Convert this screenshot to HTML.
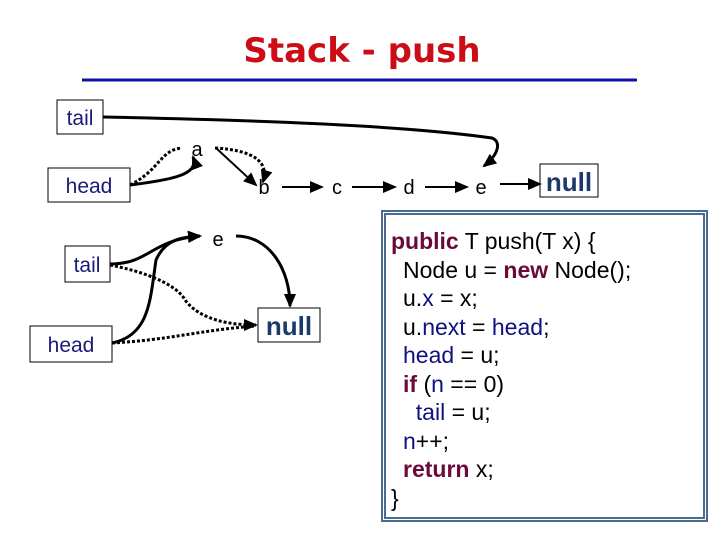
<!DOCTYPE html>
<html><head><meta charset="utf-8"><style>
body{margin:0;width:720px;height:540px;background:#fff;overflow:hidden;position:relative;font-family:"Liberation Sans",sans-serif}
svg{position:absolute;left:0;top:0}
.code{position:absolute;left:381px;top:210px;width:327px;height:312px;border:5px double #4a6a90;font-size:23px;line-height:28.5px;color:#000;box-sizing:border-box;padding-top:12px}
.code div{white-space:pre;margin-left:5px}
.i{padding-left:12px}
.k{color:#6a0a3a;font-weight:bold}.v{color:#101080}
</style></head><body>
<svg width="720" height="540" font-family="Liberation Sans, sans-serif">
<defs><marker id="ab" markerWidth="14" markerHeight="12" refX="12" refY="6" orient="auto" markerUnits="userSpaceOnUse"><path d="M0,0 L14,6 L0,12 z" fill="#000"/></marker></defs>
<text x="362" y="62" text-anchor="middle" font-family="DejaVu Sans, sans-serif" font-weight="bold" font-size="34" fill="#cc0d16">Stack - push</text>
<line x1="82" y1="80" x2="637" y2="80" stroke="#1010a8" stroke-width="3"/>
<g fill="none" stroke="#000">
<rect x="57" y="100" width="46" height="34"/>
<rect x="48" y="168" width="82" height="34"/>
<rect x="65" y="246" width="45" height="36"/>
<rect x="30" y="326" width="82" height="36"/>
<rect x="258" y="308" width="62" height="34"/>
<rect x="540" y="164" width="58" height="33"/>
</g>
<g font-size="21" fill="#1a1a7a">
<text x="80" y="125" text-anchor="middle">tail</text>
<text x="89" y="193" text-anchor="middle">head</text>
<text x="87" y="272" text-anchor="middle">tail</text>
<text x="71" y="352" text-anchor="middle">head</text>
</g>
<g font-size="26" font-weight="bold" fill="#1a3a6a">
<text x="289" y="335" text-anchor="middle">null</text>
<text x="569" y="191" text-anchor="middle">null</text>
</g>
<g font-size="20" fill="#000" text-anchor="middle">
<text x="197" y="156">a</text><text x="264" y="194">b</text><text x="337" y="194">c</text><text x="409" y="194">d</text><text x="481" y="194">e</text><text x="218" y="246">e</text>
</g>
<g stroke="#000" stroke-width="2" fill="none">
<line x1="282" y1="187" x2="322" y2="187" marker-end="url(#ab)"/>
<line x1="352" y1="187" x2="395" y2="187" marker-end="url(#ab)"/>
<line x1="425" y1="187" x2="467" y2="187" marker-end="url(#ab)"/>
<line x1="500" y1="184" x2="540" y2="184" marker-end="url(#ab)"/>
<path d="M103,117 C250,120 400,125 492,138 C502,142 498,155 484,166" stroke-width="3" marker-end="url(#ab)"/>
<line x1="216" y1="148" x2="256" y2="185" marker-end="url(#ab)"/>
<path d="M130,185 C170,180 200,175 193,157" stroke-width="3" marker-end="url(#ab)"/>
<path d="M130,185 C160,170 160,150 182,148" stroke-dasharray="3,2" stroke-width="3"/>
<path d="M215,148 C250,150 270,160 263,182" stroke-dasharray="3,2" stroke-width="3" marker-end="url(#ab)"/>
<path d="M110,264 C150,264 150,240 200,236" stroke-width="3" marker-end="url(#ab)"/>
<path d="M112,343 C150,335 150,300 156,260 C165,240 180,237 200,236" stroke-width="3" marker-end="url(#ab)"/>
<path d="M110,265 C160,275 180,290 185,300 C200,320 230,325 256,325" stroke-dasharray="3,2" stroke-width="3" marker-end="url(#ab)"/>
<path d="M112,343 C170,340 200,330 256,326" stroke-dasharray="3,2" stroke-width="3"/>
<path d="M236,236 C270,236 290,270 290,306" stroke-width="3" marker-end="url(#ab)"/>
</g>
</svg>
<div class="code">
<div><span class="k">public</span> T push(T x) {</div>
<div class="i">Node u = <span class="k">new</span> Node();</div>
<div class="i">u.<span class="v">x</span> = x;</div>
<div class="i">u.<span class="v">next</span> = <span class="v">head</span>;</div>
<div class="i"><span class="v">head</span> = u;</div>
<div class="i"><span class="k">if</span> (<span class="v">n</span> == 0)</div>
<div class="i">  <span class="v">tail</span> = u;</div>
<div class="i"><span class="v">n</span>++;</div>
<div class="i"><span class="k">return</span> x;</div>
<div>}</div>
</div>
</body></html>
